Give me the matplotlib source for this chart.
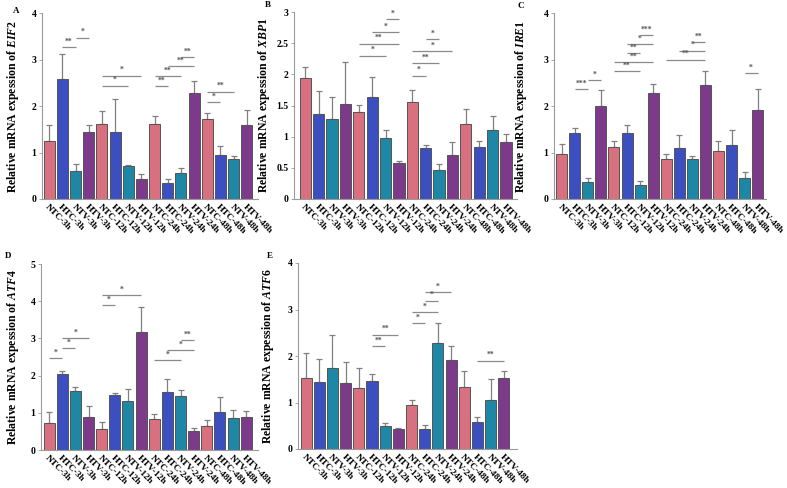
import matplotlib.pyplot as plt
import numpy as np
from matplotlib.ticker import FuncFormatter, MultipleLocator

plt.rcParams['font.family'] = ['Liberation Serif', 'DejaVu Serif']
plt.rcParams['font.weight'] = 'bold'
plt.rcParams['mathtext.fontset'] = 'custom'
plt.rcParams['mathtext.it'] = 'Liberation Serif:italic:bold'
plt.rcParams['mathtext.rm'] = 'Liberation Serif:bold'

# Grupos (16 barras por panel)
grupos = ['NTC-3h', 'HTC-3h', 'NTV-3h', 'HTV-3h',
          'NTC-12h', 'HTC-12h', 'NTV-12h', 'HTV-12h',
          'NTC-24h', 'HTC-24h', 'NTV-24h', 'HTV-24h',
          'NTC-48h', 'HTC-48h', 'NTV-48h', 'HTV-48h']

# Panel A - EIF2
eif2 = [1.25, 2.57, 0.60, 1.45, 1.62, 1.45, 0.70, 0.43,
        1.62, 0.34, 0.55, 2.27, 1.71, 0.95, 0.85, 1.59]
eif2_sd = [0.35, 0.54, 0.16, 0.15, 0.28, 0.69, 0.04, 0.10,
           0.17, 0.08, 0.12, 0.27, 0.15, 0.19, 0.08, 0.32]
eif2_sig = [(1, 2, 3.26, '**'), (2, 3, 3.47, '*'), (4, 6, 2.44, '*'), (4, 7, 2.65, '*'),
            (8, 9, 2.42, '**'), (8, 10, 2.64, '**'), (9, 11, 2.85, '**'), (10, 11, 3.05, '**'),
            (12, 13, 2.09, '*'), (12, 14, 2.31, '**')]

# Panel B - XBP1
xbp1 = [1.94, 1.37, 1.29, 1.53, 1.40, 1.63, 0.98, 0.58,
        1.56, 0.82, 0.47, 0.70, 1.21, 0.84, 1.10, 0.92]
xbp1_sd = [0.18, 0.36, 0.35, 0.67, 0.11, 0.32, 0.12, 0.03,
           0.19, 0.05, 0.09, 0.21, 0.23, 0.09, 0.23, 0.13]
xbp1_sig = [(4, 6, 2.30, '*'), (4, 7, 2.49, '**'), (5, 7, 2.68, '*'), (6, 7, 2.88, '*'),
            (8, 9, 1.98, '*'), (8, 10, 2.18, '**'), (8, 11, 2.37, '*'), (9, 10, 2.57, '*')]

# Panel C - IRE1
ire1 = [0.97, 1.41, 0.37, 1.99, 1.12, 1.43, 0.31, 2.27,
        0.86, 1.10, 0.87, 2.46, 1.03, 1.17, 0.46, 1.91]
ire1_sd = [0.22, 0.12, 0.08, 0.35, 0.13, 0.17, 0.08, 0.20,
           0.11, 0.27, 0.06, 0.29, 0.22, 0.32, 0.11, 0.46]
ire1_sig = [(1, 2, 2.37, '***'), (2, 3, 2.55, '*'), (4, 6, 2.75, '**'), (4, 7, 2.95, '**'),
            (5, 6, 3.14, '**'), (5, 7, 3.33, '*'), (6, 7, 3.52, '***'),
            (8, 11, 3.00, '**'), (9, 11, 3.19, '*'), (10, 11, 3.38, '**'), (14, 15, 2.70, '*')]

# Panel D - ATF4
atf4 = [0.73, 2.03, 1.58, 0.89, 0.57, 1.48, 1.31, 3.17,
        0.84, 1.57, 1.46, 0.52, 0.65, 1.02, 0.85, 0.88]
atf4_sd = [0.28, 0.10, 0.11, 0.28, 0.17, 0.06, 0.34, 0.68,
           0.14, 0.34, 0.15, 0.06, 0.15, 0.40, 0.23, 0.17]
atf4_sig = [(0, 1, 2.46, '*'), (1, 2, 2.73, '*'), (1, 3, 3.00, '*'), (4, 5, 3.89, '*'),
            (4, 7, 4.16, '*'), (8, 10, 2.41, '*'), (9, 11, 2.69, '*'), (10, 11, 2.96, '**')]

# Panel E - ATF6
atf6 = [1.53, 1.44, 1.75, 1.41, 1.31, 1.46, 0.49, 0.44,
        0.95, 0.44, 2.29, 1.91, 1.34, 0.59, 1.06, 1.52]
atf6_sd = [0.53, 0.49, 0.71, 0.47, 0.43, 0.16, 0.07, 0.02,
           0.11, 0.07, 0.41, 0.30, 0.33, 0.10, 0.45, 0.15]
atf6_sig = [(5, 6, 2.21, '**'), (5, 7, 2.46, '**'), (8, 9, 2.70, '*'), (8, 10, 2.94, '*'),
            (9, 10, 3.19, '*'), (9, 11, 3.37, '*'), (13, 15, 1.90, '**')]

colores = ['#d9707f', '#3c4fc0', '#1e87a6', '#7e3a8a'] * 4

W, H = 787, 488
fig = plt.figure(figsize=(W / 100, H / 100), dpi=100)


def panel(letra, gen, valores, sd, sig, ymax, paso, rect_px, xlim, lab_x, letra_xy):
    x0, x1, ybot, ytop = rect_px
    ax = fig.add_axes([x0 / W, 1 - ybot / H, (x1 - x0) / W, (ybot - ytop) / H])
    x = np.arange(len(grupos))
    ax.bar(x, valores, width=0.84, color=colores, edgecolor='#555555', linewidth=0.7, zorder=2)
    ax.errorbar(x, valores, yerr=[np.zeros(len(sd)), sd], fmt='none', ecolor='#808080',
                elinewidth=0.9, capsize=2.2, capthick=0.9, zorder=1)
    # lineas de significancia
    for i, j, y, txt in sig:
        ax.plot([i, j], [y, y], color='#8a8a8a', lw=0.9, solid_capstyle='butt')
        ax.text((i + j) / 2, y + ymax * 0.008, txt, ha='center', va='bottom',
                fontsize=5.5, color='#555555')
    ax.set_ylim(0, ymax)
    ax.set_xlim(*xlim)
    ax.yaxis.set_major_locator(MultipleLocator(paso))
    ax.yaxis.set_major_formatter(FuncFormatter(lambda v, p: '{:g}'.format(v)))
    ax.set_xticks(x)
    ax.set_xticklabels(grupos, rotation=-45, ha='left', rotation_mode='anchor', fontsize=6.8)
    ax.tick_params(axis='x', length=0, pad=3)
    ax.tick_params(axis='y', length=2, width=0.6, color='#999999', labelsize=7, pad=2)
    for s in ['top', 'right']:
        ax.spines[s].set_visible(False)
    for s in ['left', 'bottom']:
        ax.spines[s].set_color('#9a9a9a')
        ax.spines[s].set_linewidth(0.8)
    ax.set_ylabel('Relative mRNA expession of $\\it{' + gen + '}$', fontsize=8.5, fontweight='bold')
    ax.yaxis.set_label_coords(lab_x, 0.5)
    fig.text(letra_xy[0] / W, 1 - letra_xy[1] / H, letra, fontsize=6.5, fontweight='bold',
             ha='left', va='center')
    return ax


panel('A', 'EIF2', eif2, eif2_sd, eif2_sig, 4, 1, (42, 258, 199, 13), (-0.55, 15.85), -0.097, (13, 11))
panel('B', 'XBP1', xbp1, xbp1_sd, xbp1_sig, 3, 0.5, (294, 517, 199, 12), (-0.84, 15.82), -0.099, (265, 5))
panel('C', 'IRE1', ire1, ire1_sd, ire1_sig, 4, 1, (554, 766, 199, 13), (-0.59, 15.64), -0.118, (518, 6))
panel('D', 'ATF4', atf4, atf4_sd, atf4_sig, 5, 1, (41, 258, 450, 264), (-0.62, 15.9), -0.092, (5, 256))
panel('E', 'ATF6', atf6, atf6_sd, atf6_sig, 4, 1, (298, 517, 449, 263), (-0.61, 16.0), -0.10, (267, 256))

fig.savefig('out.png', dpi=100)
